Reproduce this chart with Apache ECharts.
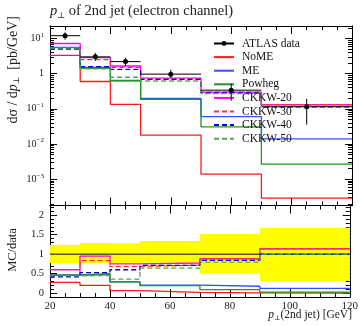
<!DOCTYPE html>
<html><head><meta charset="utf-8">
<script src="https://cdn.jsdelivr.net/npm/echarts@6/dist/echarts.min.js"></script>
<style>html,body{margin:0;padding:0;background:#fff}#c{width:361px;height:326px}</style>
</head><body><div id="c"></div><script>
// Bin edges of the 2nd-jet pT histogram [GeV]
const binEdges = [20, 30, 40, 50, 70, 90, 120];
// ATLAS measurement [pb/GeV] and relative uncertainties
const dataValues = [12, 3.0, 2.2, 0.97, 0.34, 0.115];
const dataErrUp = [0.24, 0.29, 0.28, 0.34, 0.52, 0.68];
const dataErrDown = [0.23, 0.23, 0.25, 0.22, 0.50, 0.69];
// Monte Carlo predictions [pb/GeV]
const noME = [3.3, 0.6, 0.135, 0.018, 0.0014, 0.00029];
const me = [5.6, 1.5, 0.64, 0.2, 0.06, 0.014];
const powheg = [5.5, 1.42, 0.63, 0.185, 0.031, 0.0027];
const ckkw20 = [7.2, 2.85, 1.65, 0.75, 0.30, 0.131];
const ckkw30 = [5.0, 2.5, 1.5, 0.70, 0.30, 0.131];
const ckkw40 = [5.1, 1.58, 1.32, 0.69, 0.285, 0.115];
const ckkw50 = [5.3, 1.36, 0.79, 0.62, 0.27, 0.115];
// Axis ticks
const logMajor = [0.001, 0.01, 0.1, 1, 10];
const ratioMajor = [0, 0.5, 1, 1.5, 2];

const FONT = 'Liberation Serif, DejaVu Serif, serif';
const Y_MIN = 1.8e-4, Y_MAX = 22.6;
const R_MIN = -0.1, R_MAX = 2.25;

const logMinor = [];
for (let d = -4; d <= 1; d++) for (let k = 2; k <= 9; k++) {
  const v = +(k * Math.pow(10, d)).toPrecision(3);
  if (v > Y_MIN && v < Y_MAX) logMinor.push(v);
}
const ratioMinor = [];
for (let v = 0; v <= 2.2001; v += 0.1) ratioMinor.push(+v.toFixed(2));

function steps(vals) {
  const pts = [];
  vals.forEach((v, i) => { pts.push([binEdges[i], v]); pts.push([binEdges[i + 1], v]); });
  return pts;
}
const ratio = vals => vals.map((v, i) => v / dataValues[i]);

const mcSeries = [
  { name: 'NoME', vals: noME, color: '#ff1a1a', type: 'solid' },
  { name: 'ME', vals: me, color: '#3050ff', type: 'solid' },
  { name: 'Powheg', vals: powheg, color: '#1f961f', type: 'solid' },
  { name: 'CKKW-20', vals: ckkw20, color: '#ff00ff', type: 'solid' },
  { name: 'CKKW-30', vals: ckkw30, color: '#f03a3a', type: [5, 3] },
  { name: 'CKKW-40', vals: ckkw40, color: '#0000dd', type: [5, 3] },
  { name: 'CKKW-50', vals: ckkw50, color: '#4fa84f', type: [5, 3] }
];

const black = '#000';
function xAxisDef(grid, pos, labels) {
  return {
    type: 'value', gridIndex: grid, position: pos, min: 20, max: 120, interval: 20,
    axisLine: { show: true, onZero: false, lineStyle: { color: black, width: 1 } },
    axisTick: { show: true, inside: true, length: 8, lineStyle: { color: black } },
    minorTick: { show: true, splitNumber: 4, length: 4, lineStyle: { color: black } },
    splitLine: { show: false },
    axisLabel: { show: labels, margin: 4, color: '#222', fontFamily: FONT, fontSize: 11 }
  };
}
const richLog = {
  b: { fontFamily: FONT, fontSize: 10, color: '#222', lineHeight: 14, verticalAlign: 'middle' },
  s: { fontFamily: FONT, fontSize: 7, color: '#222', lineHeight: 8, verticalAlign: 'top' }
};
function yLogDef(pos, major) {
  return {
    type: 'log', logBase: 10, gridIndex: 0, position: pos, min: Y_MIN, max: Y_MAX,
    axisLine: { show: true, lineStyle: { color: black } },
    axisTick: { show: true, inside: true, length: major ? 7 : 4, customValues: major ? logMajor : logMinor, lineStyle: { color: black } },
    splitLine: { show: false }, minorTick: { show: false },
    axisLabel: {
      show: major && pos === 'left', customValues: logMajor, margin: 6,
      formatter: v => {
        const e = Math.round(Math.log10(v));
        if (e === 0) return '{b|1}';
        return '{b|10}{s|' + (e < 0 ? '\u2212' + (-e) : e) + '}';
      },
      rich: richLog
    }
  };
}
function yRatioDef(pos, major) {
  return {
    type: 'value', gridIndex: 1, position: pos, min: R_MIN, max: R_MAX,
    axisLine: { show: true, lineStyle: { color: black } },
    axisTick: { show: true, inside: true, length: major ? 7 : 4, customValues: major ? ratioMajor : ratioMinor, lineStyle: { color: black } },
    splitLine: { show: false }, minorTick: { show: false },
    axisLabel: {
      show: major && pos === 'left', customValues: ratioMajor, margin: 6,
      color: '#222', fontFamily: FONT, fontSize: 10.5
    }
  };
}

const series = [];
// Data uncertainty band in the ratio panel
series.push({
  type: 'custom', xAxisIndex: 2, yAxisIndex: 4, silent: true, z: 1,
  data: dataValues.map((v, i) => [binEdges[i], binEdges[i + 1], 1 - dataErrDown[i], 1 + dataErrUp[i]]),
  encode: { x: [0, 1], y: [2, 3] },
  renderItem: (params, api) => {
    const a = api.coord([api.value(0), api.value(3)]);
    const b = api.coord([api.value(1), api.value(2)]);
    return { type: 'rect', shape: { x: a[0], y: a[1], width: b[0] - a[0], height: b[1] - a[1] }, style: { fill: '#ffff00' } };
  }
});
mcSeries.forEach(s => {
  series.push({
    name: s.name, type: 'line', xAxisIndex: 0, yAxisIndex: 0, data: steps(s.vals),
    symbol: 'none', z: 3, lineStyle: { color: s.color, width: 1.3, type: s.type }, itemStyle: { color: s.color }
  });
});
// Ratio MC / data
series.push({
  type: 'line', xAxisIndex: 2, yAxisIndex: 4, data: steps(dataValues.map(() => 1)),
  symbol: 'none', z: 2, lineStyle: { color: black, width: 1 }
});
mcSeries.forEach(s => {
  series.push({
    type: 'line', xAxisIndex: 2, yAxisIndex: 4, data: steps(ratio(s.vals)),
    symbol: 'none', z: 3, lineStyle: { color: s.color, width: 1.3, type: s.type }
  });
});
// ATLAS data points with error bars
series.push({
  type: 'custom', xAxisIndex: 0, yAxisIndex: 0, z: 5,
  data: dataValues.map((v, i) => [binEdges[i], binEdges[i + 1], (binEdges[i] + binEdges[i + 1]) / 2, v, v * (1 - dataErrDown[i]), v * (1 + dataErrUp[i])]),
  encode: { x: [0, 1], y: 3 },
  renderItem: (params, api) => {
    const l = api.coord([api.value(0), api.value(3)]);
    const r = api.coord([api.value(1), api.value(3)]);
    const c = api.coord([api.value(2), api.value(3)]);
    const lo = api.coord([api.value(2), api.value(4)]);
    const hi = api.coord([api.value(2), api.value(5)]);
    const st = { stroke: black, lineWidth: 1 };
    return { type: 'group', children: [
      { type: 'line', shape: { x1: l[0], y1: l[1], x2: r[0], y2: r[1] }, style: st },
      { type: 'line', shape: { x1: lo[0], y1: lo[1], x2: hi[0], y2: hi[1] }, style: st },
      { type: 'circle', shape: { cx: c[0], cy: c[1], r: 2.5 }, style: { fill: black } }
    ] };
  }
});
// Legend entry for the data points
series.push({
  name: 'ATLAS data', type: 'line', xAxisIndex: 0, yAxisIndex: 0, data: [],
  symbol: 'circle', symbolSize: 5, itemStyle: { color: black }, lineStyle: { color: black, width: 1 }
});

const legendData = [{ name: 'ATLAS data' }].concat(
  mcSeries.map(s => ({ name: s.name, itemStyle: { opacity: 0 } })));

const chart = echarts.init(document.getElementById('c'), null, { renderer: 'canvas' });
chart.setOption({
  animation: false,
  backgroundColor: '#fff',
  grid: [
    { left: 50, right: 9, top: 26, height: 179.5 },
    { left: 50, right: 9, top: 205.5, height: 91.5 }
  ],
  xAxis: [xAxisDef(0, 'bottom', false), xAxisDef(0, 'top', false), xAxisDef(1, 'bottom', true), xAxisDef(1, 'top', false)],
  yAxis: [yLogDef('left', true), yLogDef('left', false), yLogDef('right', true), yLogDef('right', false),
          yRatioDef('left', true), yRatioDef('left', false), yRatioDef('right', true), yRatioDef('right', false)],
  legend: {
    orient: 'vertical', left: 213, top: 37.5, padding: 0, itemWidth: 20, itemHeight: 6, itemGap: 1.6,
    data: legendData,
    textStyle: { fontFamily: FONT, fontSize: 11.5, color: '#111', lineHeight: 12, padding: [0, 0, 0, 3] },
    selectedMode: false
  },
  graphic: [
    { type: 'text', left: 50, top: 4, style: {
      text: '{i|p}{s|\u22a5} of 2nd jet (electron channel)',
      fontFamily: FONT, fontSize: 14.5, fill: '#222',
      rich: { i: { fontStyle: 'italic', fontFamily: FONT, fontSize: 14.5, lineHeight: 17 },
              s: { fontFamily: FONT, fontSize: 8.5, lineHeight: 10, verticalAlign: 'bottom' } } } },
    { type: 'text', x: 13, y: 16, rotation: Math.PI / 2, style: {
      text: 'd\u03c3 / d{i|p}{s|\u22a5}  [pb/GeV]', align: 'right', verticalAlign: 'middle',
      fontFamily: FONT, fontSize: 14, fill: '#222',
      rich: { i: { fontStyle: 'italic', fontFamily: FONT, fontSize: 14, lineHeight: 16 },
              s: { fontFamily: FONT, fontSize: 8, lineHeight: 9, verticalAlign: 'bottom' } } } },
    { type: 'text', x: 13, y: 250, rotation: Math.PI / 2, style: {
      text: 'MC/data', align: 'center', verticalAlign: 'middle', fontFamily: FONT, fontSize: 12.5, fill: '#222' } },
    { type: 'text', right: 9, top: 309, style: {
      text: '{i|p}{s|\u22a5}(2nd jet) [GeV]', align: 'right',
      fontFamily: FONT, fontSize: 11.5, fill: '#222',
      rich: { i: { fontStyle: 'italic', fontFamily: FONT, fontSize: 11.5, lineHeight: 14 },
              s: { fontFamily: FONT, fontSize: 7, lineHeight: 8, verticalAlign: 'bottom' } } } }
  ],
  series
});
</script></body></html>
